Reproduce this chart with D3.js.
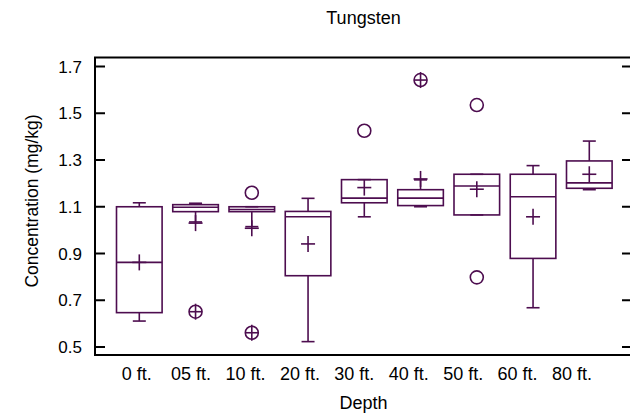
<!DOCTYPE html>
<html>
<head>
  <meta charset="utf-8">
  <script src="https://cdn.jsdelivr.net/npm/d3@7"></script>
  <style>
body { margin: 0; background: #fff; }
text { font-family: "Liberation Sans", Arial, sans-serif; fill: #000; }
.box { fill: none; stroke: #4d0d4f; stroke-width: 1.6px; }
.frame { fill: none; stroke: #000; stroke-width: 2px; }
  </style>
</head>
<body>
<svg width="630" height="419"></svg>
<script>

const depths = ["0 ft.", "05 ft.", "10 ft.", "20 ft.", "30 ft.", "40 ft.", "50 ft.", "60 ft.", "80 ft."];
const whiskerLow  = [0.611, 1.035, 1.015, 0.523, 1.057, 1.100, 1.065, 0.668, 1.173];
const q1          = [0.647, 1.079, 1.079, 0.805, 1.117, 1.105, 1.065, 0.879, 1.179];
const medians     = [0.862, 1.098, 1.088, 1.057, 1.137, 1.137, 1.189, 1.143, 1.202];
const q3          = [1.100, 1.109, 1.100, 1.080, 1.216, 1.173, 1.239, 1.239, 1.296];
const whiskerHigh = [1.117, 1.115, 1.100, 1.136, 1.216, 1.215, 1.239, 1.276, 1.381];
const means       = [0.862, 1.030, 1.008, 0.941, 1.182, 1.219, 1.175, 1.057, 1.239];
// mild outliers (circle) and far outliers (circle with plus)
const mildOut = [["10 ft.", 1.160], ["30 ft.", 1.425], ["50 ft.", 1.535], ["50 ft.", 0.798]];
const farOut  = [["05 ft.", 0.651], ["10 ft.", 0.561], ["40 ft.", 1.642]];
const yTicks = [0.5, 0.7, 0.9, 1.1, 1.3, 1.5, 1.7];

const svg = d3.select("svg");
const pLeft = 95, pRight = 632, pTop = 57.5, pBottom = 355;

const y = d3.scaleLinear().domain([0.4658, 1.7385]).range([pBottom, pTop]);
const x = d3.scalePoint().domain(depths).range([139.3, 589.3]);
const xLab = d3.scalePoint().domain(depths).range([136.7, 572]);
const hw = 22.8, cap = 6.5;

// frame
svg.append("rect").attr("class", "frame")
   .attr("x", pLeft).attr("y", pTop)
   .attr("width", pRight - pLeft).attr("height", pBottom - pTop);

// y ticks left (inside) and right (inside)
const ticks = svg.append("g");
ticks.selectAll("line.l").data(yTicks).enter().append("line")
     .attr("x1", pLeft).attr("x2", pLeft + 10)
     .attr("y1", d => y(d)).attr("y2", d => y(d))
     .attr("stroke", "#000").attr("stroke-width", 2);
ticks.selectAll("line.r").data(yTicks).enter().append("line")
     .attr("x1", pRight - 10).attr("x2", pRight)
     .attr("y1", d => y(d)).attr("y2", d => y(d))
     .attr("stroke", "#000").attr("stroke-width", 2);
ticks.selectAll("text").data(yTicks).enter().append("text")
     .attr("x", 82).attr("y", d => y(d)).attr("dy", "0.36em")
     .attr("text-anchor", "end").style("font-size", "17px")
     .text(d => d3.format(".1f")(d));

// x labels
svg.append("g").selectAll("text").data(depths).enter().append("text")
   .attr("x", d => xLab(d)).attr("y", 380)
   .attr("text-anchor", "middle").style("font-size", "18px")
   .text(d => d);

// boxes
const g = svg.append("g").attr("class", "box");
depths.forEach((d, i) => {
  const cx = x(d);
  g.append("rect").attr("x", cx - hw).attr("width", 2 * hw)
   .attr("y", y(q3[i])).attr("height", y(q1[i]) - y(q3[i]));
  g.append("line").attr("x1", cx - hw).attr("x2", cx + hw)
   .attr("y1", y(medians[i])).attr("y2", y(medians[i]));
  // whiskers
  g.append("line").attr("x1", cx).attr("x2", cx).attr("y1", y(q3[i])).attr("y2", y(whiskerHigh[i]));
  g.append("line").attr("x1", cx).attr("x2", cx).attr("y1", y(q1[i])).attr("y2", y(whiskerLow[i]));
  g.append("line").attr("x1", cx - cap).attr("x2", cx + cap).attr("y1", y(whiskerHigh[i])).attr("y2", y(whiskerHigh[i]));
  g.append("line").attr("x1", cx - cap).attr("x2", cx + cap).attr("y1", y(whiskerLow[i])).attr("y2", y(whiskerLow[i]));
  // mean
  g.append("line").attr("x1", cx - 7).attr("x2", cx + 7).attr("y1", y(means[i])).attr("y2", y(means[i]));
  g.append("line").attr("x1", cx).attr("x2", cx).attr("y1", y(means[i]) - 8).attr("y2", y(means[i]) + 8);
});

g.selectAll("circle.mild").data(mildOut).enter().append("circle")
 .attr("cx", d => x(d[0])).attr("cy", d => y(d[1])).attr("r", 6.5);
farOut.forEach(d => {
  const cx = x(d[0]), cy = y(d[1]);
  g.append("circle").attr("cx", cx).attr("cy", cy).attr("r", 6.5);
  g.append("line").attr("x1", cx - 6.5).attr("x2", cx + 6.5).attr("y1", cy).attr("y2", cy);
  g.append("line").attr("x1", cx).attr("x2", cx).attr("y1", cy - 8).attr("y2", cy + 8);
});

// titles
svg.append("text").attr("x", (pLeft + pRight) / 2).attr("y", 24)
   .attr("text-anchor", "middle").style("font-size", "18px").text("Tungsten");
svg.append("text").attr("x", (pLeft + pRight) / 2).attr("y", 409)
   .attr("text-anchor", "middle").style("font-size", "18px").text("Depth");
svg.append("text").attr("transform", "translate(38,201) rotate(-90)")
   .attr("text-anchor", "middle").style("font-size", "17.5px").text("Concentration (mg/kg)");

</script>
</body>
</html>
